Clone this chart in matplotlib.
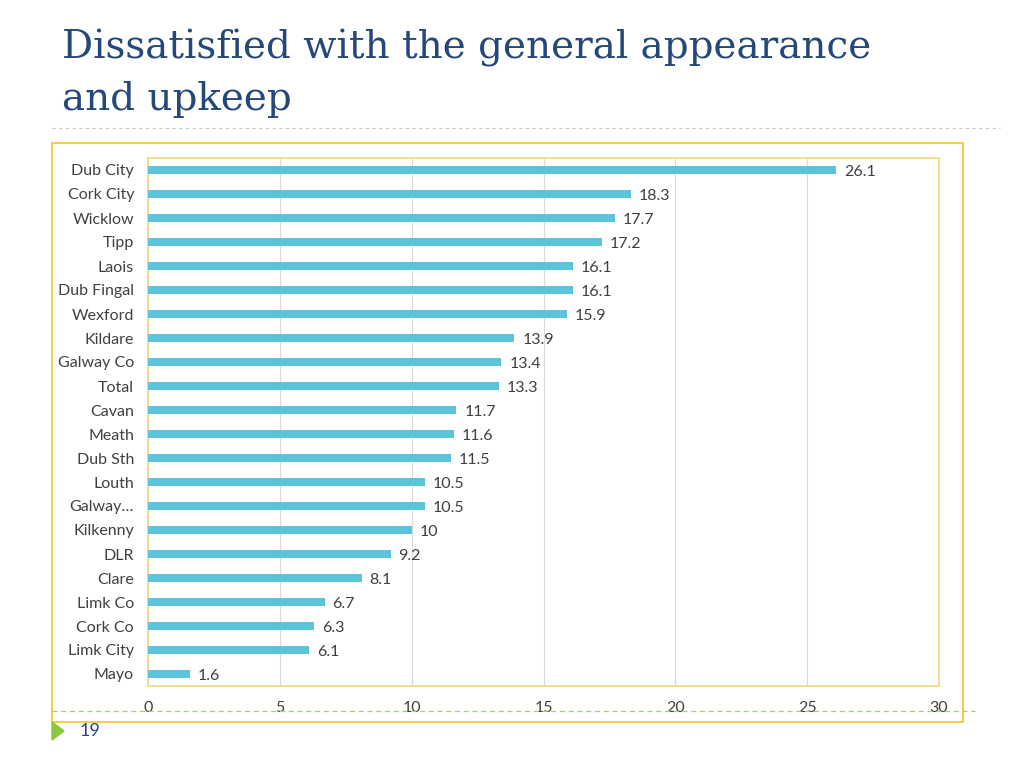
import matplotlib.pyplot as plt
from matplotlib.patches import Rectangle, Polygon
from matplotlib.lines import Line2D

areas = ['Dub City', 'Cork City', 'Wicklow', 'Tipp', 'Laois', 'Dub Fingal',
         'Wexford', 'Kildare', 'Galway Co', 'Total', 'Cavan', 'Meath',
         'Dub Sth', 'Louth', 'Galway\u2026', 'Kilkenny', 'DLR', 'Clare',
         'Limk Co', 'Cork Co', 'Limk City', 'Mayo']
values = [26.1, 18.3, 17.7, 17.2, 16.1, 16.1, 15.9, 13.9, 13.4, 13.3, 11.7,
          11.6, 11.5, 10.5, 10.5, 10, 9.2, 8.1, 6.7, 6.3, 6.1, 1.6]
value_labels = ['26.1', '18.3', '17.7', '17.2', '16.1', '16.1', '15.9', '13.9',
                '13.4', '13.3', '11.7', '11.6', '11.5', '10.5', '10.5', '10',
                '9.2', '8.1', '6.7', '6.3', '6.1', '1.6']
xticks = [0, 5, 10, 15, 20, 25, 30]

txt_font = ['Lato', 'DejaVu Sans']
bar_color = '#5BC3DA'
yellow = '#F2CF4A'
navy = '#24487A'

fig = plt.figure(figsize=(10.24, 7.68), dpi=100)

# title
fig.text(62 / 1024, 1 - 48 / 768, 'Dissatisfied with the general appearance',
         fontsize=28, family='DejaVu Serif', color=navy, va='center')
fig.text(62 / 1024, 1 - 100 / 768, 'and upkeep',
         fontsize=28, family='DejaVu Serif', color=navy, va='center')

# decorations
fig.add_artist(Line2D([52 / 1024, 1000 / 1024], [1 - 128 / 768] * 2,
                      color='#C8C8C8', lw=0.8, ls=(0, (3, 3))))
fig.add_artist(Rectangle((52 / 1024, 1 - 722 / 768), 911 / 1024, 579 / 768,
                         fill=False, ec=yellow, lw=1.5))
fig.add_artist(Line2D([52 / 1024, 975 / 1024], [1 - 711 / 768] * 2,
                      color='#A9CF6A', lw=0.9, ls=(0, (4, 3))))
fig.add_artist(Polygon([(52 / 1024, 1 - 722 / 768), (52 / 1024, 1 - 740 / 768),
                        (64 / 1024, 1 - 731 / 768)], closed=True,
                       color='#8DC63F'))
fig.text(80 / 1024, 1 - 731 / 768, '19', fontsize=13, family=txt_font,
         color=navy, va='center')

ax = fig.add_axes([148 / 1024, 1 - 686 / 768, 791 / 1024, 528 / 768])
pos = list(range(len(areas)))
ax.barh(pos, values, height=0.3, color=bar_color, zorder=3)
for p, v, lab in zip(pos, values, value_labels):
    ax.text(v + 0.3, p + 0.08, lab, va='center', ha='left', fontsize=11.5,
            family=txt_font, color='#404040')

ax.set_yticks(pos)
ax.set_yticklabels(areas, fontsize=11.5, family=txt_font, color='#404040')
ax.set_ylim(len(areas) - 0.5, -0.5)
ax.set_xlim(0, 30)
ax.set_xticks(xticks)
ax.set_xticklabels([str(t) for t in xticks], fontsize=11.5, family=txt_font,
                   color='#404040')
ax.tick_params(length=0, axis='both')
ax.tick_params(axis='x', pad=11)
ax.tick_params(axis='y', pad=10)
ax.grid(axis='x', color='#D9D9D9', lw=0.8, zorder=0)
for s in ax.spines.values():
    s.set_color('#F5D77A')
    s.set_linewidth(1.2)

fig.savefig('out.png', dpi=100)
